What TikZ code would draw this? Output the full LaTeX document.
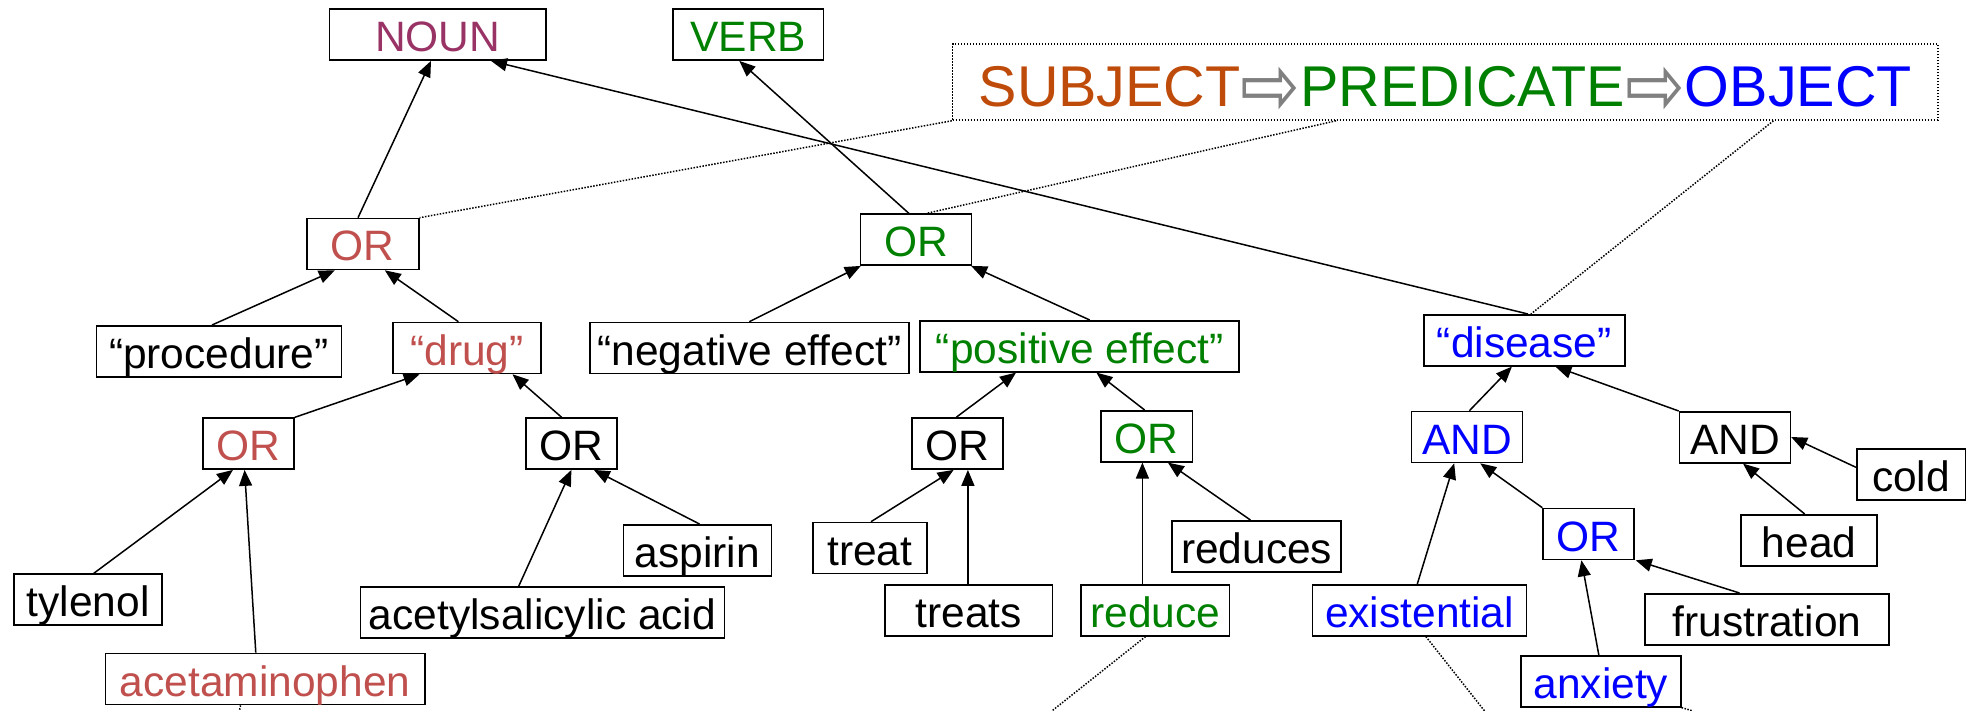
\documentclass[tikz,border=0pt]{standalone}
\usepackage{fontspec}
\setmainfont{Liberation Sans}
\newfontfamily\symfnt{DejaVu Sans}
\usetikzlibrary{arrows.meta}
\definecolor{nounc}{HTML}{993366}
\definecolor{redc}{HTML}{C0504D}
\definecolor{greenc}{HTML}{008000}
\definecolor{bluec}{HTML}{0000FF}
\definecolor{subjc}{HTML}{BE4B0A}
\definecolor{arrgray}{HTML}{808080}
\newcommand{\warr}{\raisebox{-8.5pt}{\scalebox{1.24}[1.5]{\symfnt\textcolor{arrgray}{⇨}}}}
\begin{document}
\begin{tikzpicture}[x=1pt,y=-1pt,
  box/.style={draw, line width=1.6pt, inner sep=0pt, anchor=north west,
    text height=42.5pt, text depth=8.5pt, font=\fontsize{42.5}{51}\selectfont},
  arr/.style={line width=1.5pt, -{Triangle[length=16pt,width=13pt]}},
  dots/.style={line width=1.5pt, dash pattern=on 1.5pt off 1.5pt}]
\useasboundingbox (0,0) rectangle (1981,711);

% top row
\node[box, minimum width=216.5pt, text=nounc] (noun) at (328.6,8.3) {NOUN};
\node[box, minimum width=150.5pt, text=greenc] (verb) at (672.3,8.3) {VERB};
\node[draw, dots, inner sep=0pt, anchor=north west, minimum width=985.3pt,
  text height=62.7pt, text depth=13.3pt, font=\fontsize{57.5}{60}\selectfont] (title) at (951.8,43.3)
  {\textcolor{subjc}{SUBJECT}\warr\textcolor{greenc}{PREDICATE}\warr\textcolor{bluec}{OBJECT}};

% second level
\node[box, minimum width=112pt, text=redc] (orA) at (306,217.7) {OR};
\node[box, minimum width=110.7pt, text=greenc] (orG) at (859.8,213.3) {OR};

% third level
\node[box, minimum width=245.1pt] (proc) at (95.5,325) {“procedure”};
\node[box, minimum width=147.8pt, text=redc] (drug) at (392.4,321.7) {“drug”};
\node[box, minimum width=318.7pt] (neg) at (589.3,321.7) {“negative effect”};
\node[box, minimum width=319.2pt, text=greenc] (pos) at (919.2,320) {“positive effect”};
\node[box, minimum width=201.1pt, text=bluec] (dis) at (1422.9,314) {“disease”};

% fourth level
\node[box, minimum width=91.1pt, text=redc] (orR) at (202.2,417.3) {OR};
\node[box, minimum width=91pt] (orK) at (525,417.3) {OR};
\node[box, minimum width=91pt] (orK2) at (911.2,417.3) {OR};
\node[box, minimum width=91.1pt, text=greenc] (orG2) at (1100.4,410) {OR};
\node[box, minimum width=110.8pt, text=bluec] (andB) at (1410.7,410.7) {AND};
\node[box, minimum width=110.8pt] (andK) at (1678.7,411) {AND};
\node[box, minimum width=108.6pt] (cold) at (1855.9,448.3) {cold};

% leaves
\node[box, minimum width=135.9pt] (head) at (1740.4,514) {head};
\node[box, minimum width=90.8pt, text=bluec] (orB) at (1542.3,507.7) {OR};
\node[box, minimum width=147.8pt] (tyl) at (13.4,573.3) {tylenol};
\node[box, minimum width=319.5pt, text=redc] (acet) at (104.5,652.7) {acetaminophen};
\node[box, minimum width=147.7pt] (asp) at (622.8,524) {aspirin};
\node[box, minimum width=363.9pt] (asa) at (359.8,586) {acetylsalicylic acid};
\node[box, minimum width=113.9pt] (treat) at (812,521.7) {treat};
\node[box, minimum width=167.8pt] (treats) at (884,584) {treats};
\node[box, minimum width=148.2pt, text=greenc] (reduce) at (1080.4,584) {reduce};
\node[box, minimum width=168.8pt] (reduces) at (1171.4,520) {reduces};
\node[box, minimum width=214.1pt, text=bluec] (exist) at (1311.7,584) {existential};
\node[box, minimum width=243.6pt] (frus) at (1644.4,593) {frustration};
\node[box, minimum width=159.8pt, text=bluec] (anx) at (1520.2,655) {anxiety};

% arrows
\draw[arr] ([xshift=52pt]orA.north west) -- ([xshift=102.4pt]noun.south west);
\draw[arr] ([xshift=105pt]dis.north west) -- ([xshift=162.4pt]noun.south west);
\draw[arr] ([xshift=49pt]orG.north west) -- ([xshift=67pt]verb.south west);
\draw[arr] ([xshift=116.5pt]proc.north west) -- ([xshift=28.8pt]orA.south west);
\draw[arr] ([xshift=66pt]drug.north west) -- ([xshift=78.8pt]orA.south west);
\draw[arr] ([xshift=160pt]neg.north west) -- ([xshift=1pt]orG.south west);
\draw[arr] ([xshift=170.5pt]pos.north west) -- ([xshift=-1pt]orG.south east);
\draw[arr] (orR.north east) -- ([xshift=27.2pt]drug.south west);
\draw[arr] ([xshift=36.6pt]orK.north west) -- ([xshift=120.1pt]drug.south west);
\draw[arr] ([xshift=80.4pt]tyl.north west) -- ([xshift=30.8pt]orR.south west);
\draw[arr] ([xshift=151.3pt]acet.north west) -- ([xshift=42.4pt]orR.south west);
\draw[arr] ([xshift=159pt]asa.north west) -- ([xshift=46.4pt]orK.south west);
\draw[arr] ([xshift=76.7pt]asp.north west) -- ([xshift=68.8pt]orK.south west);
\draw[arr] ([xshift=45pt]orK2.north west) -- ([xshift=96.8pt]pos.south west);
\draw[arr] ([xshift=44.2pt]orG2.north west) -- ([xshift=177.2pt]pos.south west);
\draw[arr] ([xshift=59pt]treat.north west) -- ([xshift=42.4pt]orK2.south west);
\draw[arr] ([xshift=83.9pt]treats.north west) -- ([xshift=56.7pt]orK2.south west);
\draw[arr] ([xshift=62pt]reduce.north west) -- ([xshift=42pt]orG2.south west);
\draw[arr] ([xshift=79pt]reduces.north west) -- ([xshift=67.5pt]orG2.south west);
\draw[arr] ([xshift=58.7pt]andB.north west) -- ([xshift=89pt]dis.south west);
\draw[arr] (andK.north west) -- ([xshift=132.5pt]dis.south west);
\draw[arr] ([xshift=105.6pt]exist.north west) -- ([xshift=43.5pt]andB.south west);
\draw[arr] (orB.north west) -- ([xshift=69.5pt]andB.south west);
\draw[arr] ([xshift=78.6pt]anx.north west) -- ([xshift=39.1pt]orB.south west);
\draw[arr] ([xshift=95.1pt]frus.north west) -- ([xshift=1pt]orB.south east);
\draw[arr] ([xshift=64.3pt]head.north west) -- ([xshift=64.3pt]andK.south west);
\draw[arr] ([yshift=-19pt]cold.north west) -- ([yshift=-26pt]andK.north east);

% dotted links
\coordinate (e1) at (1051.8,711);
\coordinate (e2) at (1484.6,711);
\coordinate (e3) at (1693,711);
\coordinate (e4) at (239.5,711);
\draw[dots] (title.south west) -- (orA.north east);
\draw[dots] ([xshift=384.2pt]title.south west) -- ([xshift=67pt]orG.north west);
\draw[dots] ([xshift=821.6pt]title.south west) -- ([xshift=108pt]dis.north west);
\draw[dots] ([xshift=65.1pt]reduce.south west) -- (e1);
\draw[dots] ([xshift=114.2pt]exist.south west) -- (e2);
\draw[dots] (anx.south east) -- (e3);
\draw[dots] ([xshift=136pt]acet.south west) -- (e4);
\end{tikzpicture}
\end{document}
